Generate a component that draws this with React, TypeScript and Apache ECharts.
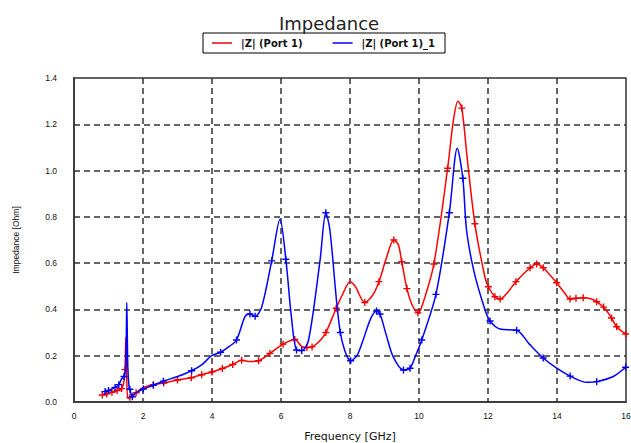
import React, { useEffect, useRef } from "react";
import * as echarts from "echarts";

const xTicks = [0, 2, 4, 6, 8, 10, 12, 14, 16];
const yTicks = [0, 0.2, 0.4, 0.6, 0.8, 1.0, 1.2, 1.4];

const redFreq = [0.82, 0.95, 1.1, 1.25, 1.38, 1.45, 1.48, 1.5, 1.52, 1.56, 1.62, 1.8, 2.0, 2.3, 2.6, 3.0, 3.4, 3.7, 4.0, 4.3, 4.6, 4.86, 5.1, 5.35, 5.68, 6.06, 6.4, 6.6, 6.75, 6.9, 7.1, 7.3, 7.6, 7.8, 8.0, 8.15, 8.43, 8.65, 8.84, 9.05, 9.27, 9.4, 9.5, 9.65, 9.8, 9.97, 10.1, 10.43, 10.83, 11.0, 11.13, 11.24, 11.4, 11.62, 11.91, 12.01, 12.2, 12.35, 12.55, 12.81, 13.22, 13.41, 13.6, 13.99, 14.2, 14.38, 14.55, 14.76, 15.0, 15.15, 15.35, 15.58, 15.73, 15.99];
const redZ = [0.03, 0.035, 0.042, 0.05, 0.058, 0.09, 0.14, 0.28, 0.16, 0.015, 0.02, 0.04, 0.062, 0.075, 0.082, 0.095, 0.105, 0.118, 0.13, 0.145, 0.162, 0.18, 0.175, 0.178, 0.21, 0.25, 0.27, 0.24, 0.235, 0.238, 0.26, 0.3, 0.405, 0.47, 0.52, 0.5, 0.43, 0.46, 0.52, 0.62, 0.7, 0.68, 0.606, 0.49, 0.42, 0.385, 0.42, 0.596, 1.01, 1.22, 1.3, 1.27, 1.05, 0.77, 0.54, 0.498, 0.455, 0.445, 0.47, 0.52, 0.58, 0.596, 0.58, 0.515, 0.475, 0.445, 0.448, 0.45, 0.445, 0.433, 0.41, 0.363, 0.325, 0.294];
const redMarked = [0.82, 0.95, 1.1, 1.25, 1.38, 1.48, 1.62, 1.8, 2.3, 2.6, 3.0, 3.4, 3.7, 4.0, 4.3, 4.6, 4.86, 5.35, 5.68, 6.06, 6.4, 6.75, 6.9, 7.3, 7.6, 8.43, 8.84, 9.27, 9.5, 9.65, 9.97, 10.43, 10.83, 11.24, 11.62, 12.01, 12.2, 12.35, 12.81, 13.22, 13.41, 13.6, 13.99, 14.38, 14.55, 14.76, 15.15, 15.35, 15.58, 15.73, 15.99];

const blueFreq = [0.9, 1.0, 1.19, 1.3, 1.38, 1.45, 1.5, 1.53, 1.56, 1.6, 1.62, 1.69, 1.8, 2.01, 2.3, 2.59, 3.0, 3.41, 3.7, 3.99, 4.25, 4.5, 4.71, 4.96, 5.1, 5.25, 5.44, 5.73, 5.97, 6.14, 6.3, 6.45, 6.6, 6.8, 7.13, 7.3, 7.42, 7.72, 8.02, 8.2, 8.38, 8.6, 8.77, 8.87, 9.05, 9.25, 9.55, 9.74, 9.9, 10.08, 10.49, 10.88, 11.11, 11.27, 11.38, 11.6, 11.91, 12.06, 12.35, 12.83, 13.2, 13.6, 13.99, 14.38, 14.86, 15.15, 15.63, 15.99];
const blueZ = [0.045, 0.05, 0.063, 0.075, 0.1, 0.11, 0.15, 0.43, 0.15, 0.056, 0.055, 0.023, 0.04, 0.056, 0.072, 0.09, 0.11, 0.135, 0.16, 0.2, 0.215, 0.24, 0.268, 0.37, 0.38, 0.37, 0.41, 0.61, 0.79, 0.617, 0.37, 0.225, 0.222, 0.268, 0.61, 0.818, 0.74, 0.3, 0.178, 0.2, 0.268, 0.36, 0.393, 0.38, 0.29, 0.196, 0.138, 0.146, 0.2, 0.268, 0.465, 0.818, 1.096, 0.967, 0.74, 0.56, 0.4, 0.35, 0.315, 0.31, 0.25, 0.19, 0.146, 0.112, 0.085, 0.088, 0.11, 0.15];
const blueMarked = [0.9, 1.0, 1.19, 1.3, 1.45, 1.62, 1.69, 2.01, 2.3, 2.59, 3.41, 4.25, 4.71, 5.1, 5.25, 5.73, 6.14, 6.45, 6.6, 7.3, 7.72, 8.02, 8.77, 8.87, 9.55, 9.74, 10.08, 10.49, 10.88, 11.27, 12.06, 12.83, 13.6, 14.38, 15.15, 15.99];

const seriesNames = ["|Z| (Port 1)", "|Z| (Port 1)_1"];
const plus = "path://M-1,-5H1V-1H5V1H1V5H-1V1H-5V-1H-1Z";

function build(f: number[], z: number[], marks: number[]) {
  return f.map((x, i) =>
    marks.includes(x) ? { value: [x, z[i]] } : { value: [x, z[i]], symbol: "none" }
  );
}

export default function App() {
  const ref = useRef<HTMLDivElement>(null);
  useEffect(() => {
    const chart = echarts.init(ref.current!, null, { renderer: "svg" });
    const font = "'Liberation Sans', Arial, sans-serif";
    const dv = "'DejaVu Sans', sans-serif";
    const gridLine = { show: true, showMinLine: false, showMaxLine: false, lineStyle: { color: "#333", width: 1.5, type: [6, 4] } };
    chart.setOption({
      animation: false,
      backgroundColor: "#fff",
      title: {
        text: "Impedance",
        left: 274,
        top: 9,
        textStyle: { fontFamily: dv, fontSize: 18, fontWeight: "normal", color: "#222" },
      },
      legend: {
        left: 203,
        top: 33,
        data: seriesNames,
        icon: "rect",
        itemWidth: 20,
        itemHeight: 1.5,
        itemGap: 30,
        padding: [5, 10, 5, 9],
        borderColor: "#000",
        borderWidth: 1,
        textStyle: { fontFamily: dv, fontSize: 10, fontWeight: "bold", color: "#111", padding: [0, 0, 0, 4] },
      },
      grid: { left: 74, right: 5, top: 78, bottom: 41, outerBoundsMode: "none", containLabel: false, show: true, borderColor: "#333", borderWidth: 1.5, backgroundColor: "transparent" },
      xAxis: {
        type: "value",
        min: xTicks[0],
        max: xTicks[xTicks.length - 1],
        interval: 2,
        name: "Frequency [GHz]",
        nameLocation: "middle",
        nameGap: 29,
        nameTextStyle: { fontFamily: dv, fontSize: 11, color: "#111" },
        axisLine: { show: true, lineStyle: { color: "#333", width: 1.5 } },
        axisTick: { show: false },
        axisLabel: { fontFamily: font, fontSize: 8.5, color: "#111", margin: 9 },
        splitLine: gridLine,
      },
      yAxis: {
        type: "value",
        min: yTicks[0],
        max: yTicks[yTicks.length - 1],
        interval: 0.2,
        name: "Impedance [Ohm]",
        nameLocation: "middle",
        nameGap: 54,
        nameTextStyle: { fontFamily: font, fontSize: 8.5, color: "#111" },
        axisLine: { show: true, lineStyle: { color: "#333", width: 1.5 } },
        axisTick: { show: false },
        axisLabel: { fontFamily: font, fontSize: 8.5, color: "#111", margin: 17, formatter: (v: number) => v.toFixed(1) },
        splitLine: gridLine,
      },
      series: [
        {
          name: seriesNames[0],
          type: "line",
          smooth: 0.3,
          symbol: plus,
          symbolSize: 7,
          showSymbol: true,
          color: "#ff0000",
          lineStyle: { width: 1.5, color: "#ff0000" },
          itemStyle: { color: "#ee0000" },
          data: build(redFreq, redZ, redMarked),
          z: 3,
        },
        {
          name: seriesNames[1],
          type: "line",
          smooth: 0.3,
          symbol: plus,
          symbolSize: 7,
          showSymbol: true,
          color: "#0000ff",
          lineStyle: { width: 1.5, color: "#0000ff" },
          itemStyle: { color: "#0000ee" },
          data: build(blueFreq, blueZ, blueMarked),
          z: 4,
        },
      ],
    });
    return () => chart.dispose();
  }, []);
  return <div ref={ref} style={{ position: "fixed", left: 0, top: 0, width: 631, height: 443, background: "#fff" }} />;
}
